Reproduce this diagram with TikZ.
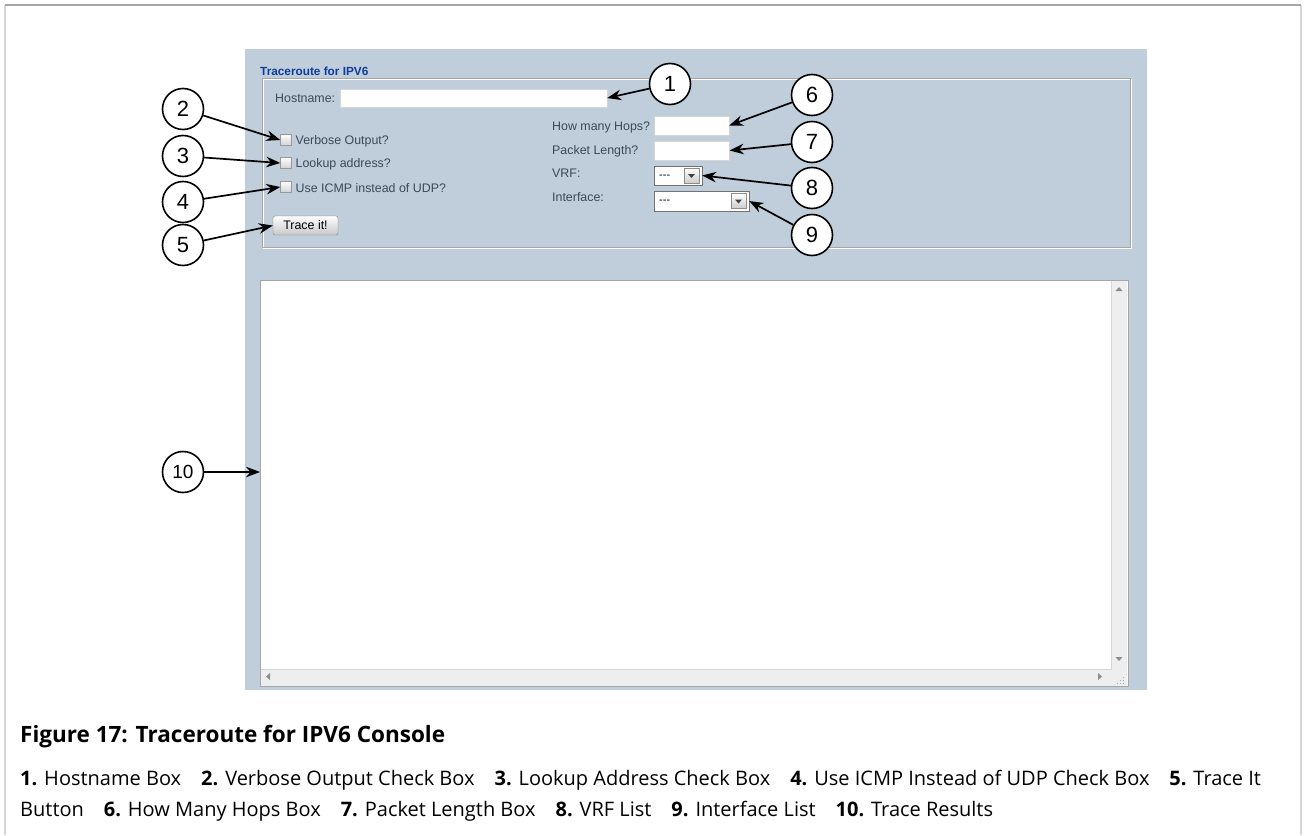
\documentclass[tikz,border=0pt]{standalone}
\usepackage{fontspec}
\setmainfont{Open Sans}
\newfontfamily\uifont{Liberation Sans}
\usepackage{tikz}
\usetikzlibrary{positioning,arrows.meta,calc}
\definecolor{pPanel}{HTML}{BFCEDA}
\definecolor{pTitle}{HTML}{0E3C9A}
\definecolor{pText}{HTML}{3C4A56}
\definecolor{pFrame}{HTML}{A6A6A6}
\definecolor{pEdge}{HTML}{D6D6D6}
\definecolor{pScroll}{HTML}{EEEEEE}
\newcommand{\chkrow}[3]{%
 \node[chkbox] (#1) at (286,#2) {};%
 \node[uitext, anchor=west] at (295.5,#2+1) {#3};}
\newcommand{\ddarrow}[1]{%
 \fill[black!75] ($(#1.center)+(-3.5,-1.5)$) -- ++(7,0) -- ++(-3.5,4) -- cycle;}

\begin{document}
\begin{tikzpicture}[x=1pt,y=-1pt,
 uitext/.style={font=\uifont\fontsize{12.4}{14}\selectfont, text=pText, inner sep=0},
 field/.style={draw=pEdge, fill=white, inner sep=0},
 chkbox/.style={draw=black!40, top color=white, bottom color=black!18, minimum size=11pt, inner sep=0},
 ddbox/.style={draw=black!55, fill=white, inner sep=0},
 ddbtn/.style={draw=black!45, top color=white, bottom color=black!20, minimum width=15pt, minimum height=15pt, inner sep=0},
 callout/.style={circle, draw, line width=1.6pt, fill=white, minimum size=41pt, inner sep=0, font=\uifont\fontsize{22}{22}\selectfont},
 callarrow/.style={-{Stealth[length=14pt,width=10.5pt]}, line width=1.7pt}]
\useasboundingbox (0,0) rectangle (1306,835);
% page frame
\draw[pEdge, line width=1.5pt] (5,835) -- (5,5) (1301,5) -- (1301,835);
\draw[pFrame, line width=1.2pt] (5,5) -- (1301,5);
% screenshot
\fill[pPanel] (245,49) rectangle (1147,690);
\node[font=\uifont\bfseries\fontsize{11.8}{13}\selectfont, text=pTitle, anchor=base west, inner sep=0] (title) at (260,75) {Traceroute for IPV6};
\draw[white] (263,79) rectangle (1131,248);
\draw[pFrame] (262,78) rectangle (1130,247);
\node[uitext, anchor=base west] (hostlbl) at (275,102) {Hostname:};
\node[field, minimum width=267pt, minimum height=18pt] (hostfield) at (473.5,98) {};
\chkrow{verbosebox}{140}{Verbose Output?}
\chkrow{lookupbox}{163}{Lookup address?}
\chkrow{icmpbox}{187}{Use ICMP instead of UDP?}
\node[draw=black!50, rounded corners=2pt, top color=white, bottom color=black!22, minimum width=65pt, minimum height=19pt, inner sep=0, font=\uifont\fontsize{12.4}{14}\selectfont] (tracebtn) at (305.5,225.5) {Trace it!};
\node[uitext, anchor=base west] (hopslbl) at (552,130) {How many Hops?};
\node[uitext, anchor=base west] (lenlbl) at (552,154) {Packet Length?};
\node[uitext, anchor=base west] (vrflbl) at (552,177) {VRF:};
\node[uitext, anchor=base west] (iflbl) at (552,201) {Interface:};
\node[field, minimum width=75pt, minimum height=19pt] (hopsfield) at (691.5,125.5) {};
\node[field, minimum width=75pt, minimum height=19pt] (lenfield) at (692,150.5) {};
\node[ddbox, minimum width=48pt, minimum height=19pt] (vrflist) at (678,175.5) {};
\node[ddbtn] (vrfbtn) at (691.5,175.5) {};
\ddarrow{vrfbtn}
\node[font=\uifont\fontsize{11}{12}\selectfont, anchor=base west, inner sep=0] at (659,178) {---};
\node[ddbox, minimum width=95pt, minimum height=20pt] (iflist) at (701.5,201) {};
\node[ddbtn] (ifbtn) at (738.5,201) {};
\ddarrow{ifbtn}
\node[font=\uifont\fontsize{11}{12}\selectfont, anchor=base west, inner sep=0] at (659,203.5) {---};
% results area
\node[draw=black!35, fill=white, minimum width=868pt, minimum height=406pt, inner sep=0, anchor=north west] (results) at (260,280) {};
\fill[pScroll] (1111,281) rectangle (1127,686);
\fill[pScroll] (261,669) rectangle (1127,686);
\draw[pEdge] (1111,281) -- (1111,669) -- (261,669);
\fill[black!45] (1115.5,291) -- ++(7,0) -- ++(-3.5,-4) -- cycle;
\fill[black!45] (1115.5,657) -- ++(7,0) -- ++(-3.5,4) -- cycle;
\fill[black!45] (270,673) -- ++(0,7) -- ++(-4,-3.5) -- cycle;
\fill[black!45] (1098,673) -- ++(0,7) -- ++(4,-3.5) -- cycle;
\foreach \gx/\gy in {1123/683, 1120/683, 1117/683, 1123/680, 1120/680, 1123/677}
 \fill[black!35] (\gx,\gy) rectangle ++(1.2,1.2);
% callouts
\node[callout] (c1) at (670,84) {1};
\node[callout] (c2) at (183,109) {2};
\node[callout] (c3) at (183,156) {3};
\node[callout] (c4) at (183,202) {4};
\node[callout] (c5) at (183,245) {5};
\node[callout] (c6) at (812,95) {6};
\node[callout] (c7) at (812,142) {7};
\node[callout] (c8) at (812,188) {8};
\node[callout] (c9) at (812,235) {9};
\node[callout, font=\uifont\fontsize{19}{19}\selectfont] (c10) at (183,472) {10};
\draw[callarrow] (c1) -- (hostfield.east);
\draw[callarrow] (c2) -- (verbosebox.west);
\draw[callarrow] (c3) -- (lookupbox.west);
\draw[callarrow] (c4) -- (icmpbox.west);
\draw[callarrow] (c5) -- (tracebtn.west);
\draw[callarrow] (c6) -- (hopsfield.east);
\draw[callarrow] (c7) -- (lenfield.east);
\draw[callarrow] (c8) -- (vrflist.east);
\draw[callarrow] (c9) -- (iflist.east);
\draw[callarrow] (c10) -- (c10 -| results.west);
% caption
\node[font=\bfseries\fontsize{22.5}{26}\selectfont, anchor=base west, inner sep=0] (caption) at (20,742) {Figure 17: Traceroute for IPV6 Console};
\node[font=\fontsize{20}{24}\selectfont, anchor=base west, inner sep=0] (legend1) at (20,785) {\textbf{1.} Hostname Box\hspace{1em}\textbf{2.} Verbose Output Check Box\hspace{1em}\textbf{3.} Lookup Address Check Box\hspace{1em}\textbf{4.} Use ICMP Instead of UDP Check Box\hspace{1em}\textbf{5.} Trace It};
\node[font=\fontsize{20}{24}\selectfont, anchor=base west, inner sep=0] (legend2) at (20,816) {Button\hspace{1em}\textbf{6.} How Many Hops Box\hspace{1em}\textbf{7.} Packet Length Box\hspace{1em}\textbf{8.} VRF List\hspace{1em}\textbf{9.} Interface List\hspace{1em}\textbf{10.} Trace Results};
\end{tikzpicture}
\end{document}
